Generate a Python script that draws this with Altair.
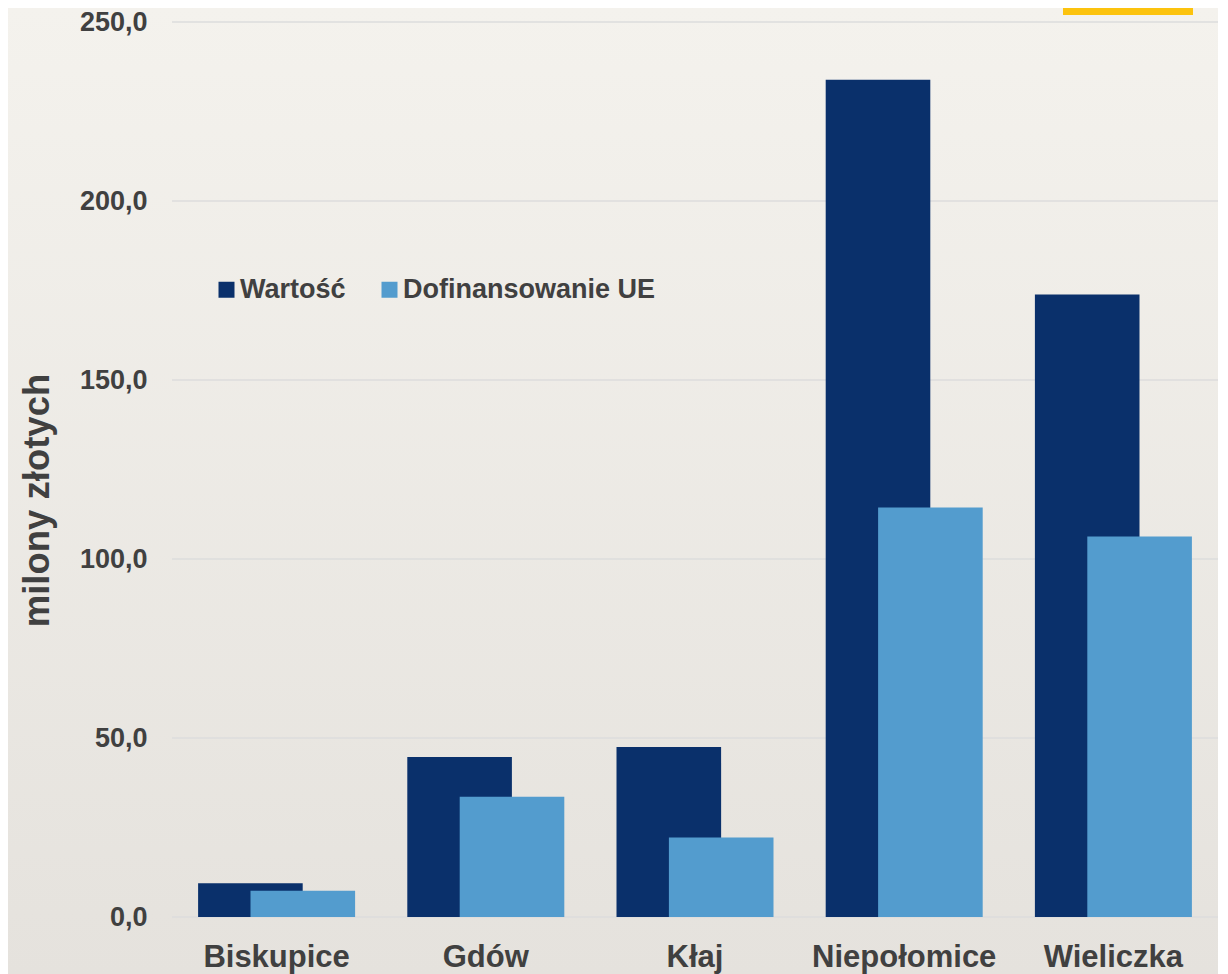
import altair as alt
import pandas as pd

gminy = ["Biskupice", "Gdów", "Kłaj", "Niepołomice", "Wieliczka"]
wartosc = [9.4, 44.7, 47.5, 233.9, 173.9]
dofinansowanie = [7.3, 33.6, 22.2, 114.4, 106.3]
series = ["Wartość", "Dofinansowanie UE"]
colors = ["#0a306b", "#539cce"]
y_ticks = [0, 50, 100, 150, 200, 250]

rows = []
for g, w, d in zip(gminy, wartosc, dofinansowanie):
    rows.append({"gmina": g, "seria": series[0], "v": w})
    rows.append({"gmina": g, "seria": series[1], "v": d})
df = pd.DataFrame(rows)
grid_df = pd.DataFrame({"v": y_ticks})

W, H = 1046, 895
PL, PT, PR, PB = 164, 14, 0, 57

bg = alt.Chart(alt.Data(values=[{}])).mark_rect(
    color=alt.Gradient(
        gradient="linear", x1=0, y1=0, x2=0, y2=1,
        stops=[alt.GradientStop(color="#f4f2ed", offset=0),
               alt.GradientStop(color="#e5e2dd", offset=1)],
    )
).encode(
    x=alt.value(-PL), x2=alt.value(W + 20),
    y=alt.value(-PT), y2=alt.value(H + PB),
)

deco = alt.Chart(alt.Data(values=[{}])).mark_rect(color="#fcc30e").encode(
    x=alt.value(891), x2=alt.value(1021), y=alt.value(-PT), y2=alt.value(-PT + 7),
)

yscale = alt.Scale(domain=[0, 250], nice=False)

yaxis = alt.Axis(
    title="milony złotych", values=y_ticks,
    labelExpr="replace(format(datum.value, '.1f'), '.', ',')",
    labelFont="Liberation Sans", labelFontWeight="bold", labelFontSize=27,
    labelColor="#404040", labelPadding=25, ticks=False, domain=False,
    grid=False, zindex=1,
    titleFont="Liberation Sans", titleFontWeight="bold", titleFontSize=36.5,
    titleColor="#404040", titleAngle=270, titleX=-135, titleY=478,
    titleAlign="center", titleBaseline="middle",
)
yenc = alt.Y("v:Q", scale=yscale, axis=yaxis)

grid = alt.Chart(grid_df).mark_rule(color="#dcdcdc", strokeWidth=1.5).encode(y=yenc)

xenc = alt.X(
    "gmina:N", sort=gminy,
    scale=alt.Scale(paddingInner=0, paddingOuter=0),
    axis=alt.Axis(
        title=None, labelAngle=0, labelFont="Liberation Sans", labelFontWeight="bold",
        labelFontSize=31, labelColor="#404040", labelPadding=25, ticks=False,
        domain=False, labelBaseline="top", zindex=1, grid=False, labelLimit=0,
    ),
)
cenc = alt.Color(
    "seria:N",
    scale=alt.Scale(domain=series, range=colors),
    legend=alt.Legend(
        title=None, orient="none", legendX=41, legendY=254, direction="horizontal",
        symbolType="square", symbolSize=256, symbolStrokeWidth=0,
        labelFont="Liberation Sans", labelFontWeight="bold", labelFontSize=27,
        labelColor="#404040", labelOffset=0, labelLimit=0, columnPadding=30, padding=0,
    ),
)

bars_w = alt.Chart(df).transform_filter(alt.datum.seria == series[0]).mark_bar(
    width=alt.RelativeBandSize(0.5), xOffset=-26.2
).encode(x=xenc, y=yenc, color=cenc)

bars_d = alt.Chart(df).transform_filter(alt.datum.seria == series[1]).mark_bar(
    width=alt.RelativeBandSize(0.5), xOffset=26.2
).encode(x=xenc, y=yenc, color=cenc)

chart = alt.layer(bg, deco, grid, bars_w, bars_d).properties(
    width=W, height=H,
    autosize=alt.AutoSizeParams(type="none"),
    padding={"left": PL, "top": PT, "right": PR, "bottom": PB},
    background="#eeebe6",
).configure_view(stroke=None)

chart.save("out.html", embed_options={"renderer": "svg", "actions": False})
